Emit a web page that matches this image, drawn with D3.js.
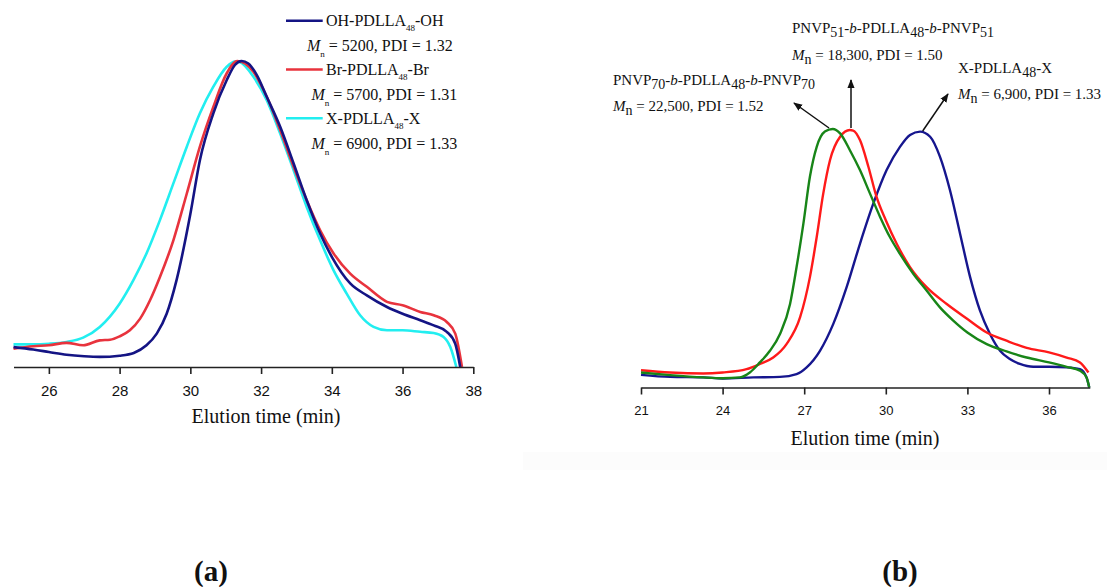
<!DOCTYPE html>
<html>
<head>
<meta charset="UTF-8">
<title>GPC traces</title>
<script src="https://cdn.jsdelivr.net/npm/d3@7"></script>
<style>
  body { margin: 0; background: #fff; }
  svg text { fill: #111; }
</style>
</head>
<body>
<script>
// ---- panel (a) data: elution time (min) vs normalised RI signal ----
var ohTime = [25, 25.56, 26, 26.5, 27, 27.44, 28, 28.4, 28.76, 29.05, 29.33, 29.61, 30, 30.27, 30.65, 31.03, 31.26, 31.45, 31.64, 31.88, 32.16, 32.54, 32.92, 33.29, 33.67, 34, 34.52, 34.99, 35.56, 36, 36.5, 36.88, 37.25, 37.49, 37.63];
var ohSignal = [0.065, 0.057, 0.049, 0.04, 0.035, 0.033, 0.037, 0.046, 0.071, 0.109, 0.174, 0.284, 0.5, 0.676, 0.829, 0.938, 0.987, 1.0, 0.992, 0.954, 0.883, 0.785, 0.665, 0.545, 0.436, 0.36, 0.273, 0.234, 0.196, 0.174, 0.153, 0.136, 0.115, 0.076, 0];

var brTime = [25, 25.56, 26, 26.5, 26.97, 27.44, 27.73, 28, 28.29, 28.58, 28.86, 29.14, 29.52, 29.9, 30.27, 30.65, 31.03, 31.33, 31.78, 32.16, 32.54, 32.92, 33.29, 33.67, 34.05, 34.52, 34.99, 35.56, 36, 36.5, 36.88, 37.25, 37.49, 37.68];
var brSignal = [0.06, 0.068, 0.071, 0.079, 0.071, 0.087, 0.089, 0.1, 0.12, 0.158, 0.218, 0.294, 0.414, 0.567, 0.72, 0.85, 0.96, 1.0, 0.965, 0.883, 0.774, 0.654, 0.545, 0.447, 0.371, 0.305, 0.262, 0.213, 0.202, 0.18, 0.169, 0.147, 0.109, 0];

var xaTime = [25, 25.56, 26, 26.5, 26.97, 27.44, 28, 28.39, 28.76, 29.14, 29.52, 29.9, 30.27, 30.65, 31.03, 31.26, 31.4, 31.78, 32.16, 32.54, 32.92, 33.29, 33.67, 34.05, 34.42, 34.8, 35.18, 35.56, 36, 36.5, 36.88, 37.16, 37.35, 37.52];
var xaSignal = [0.074, 0.074, 0.076, 0.082, 0.096, 0.131, 0.207, 0.284, 0.371, 0.48, 0.6, 0.72, 0.829, 0.916, 0.981, 0.998, 0.996, 0.949, 0.872, 0.763, 0.643, 0.523, 0.414, 0.316, 0.24, 0.169, 0.131, 0.12, 0.12, 0.115, 0.111, 0.098, 0.065, 0];

var aTicks = [26, 28, 30, 32, 34, 36, 38];

// ---- panel (b) data ----
var g70Time = [21, 22.07, 23.29, 24, 24.64, 25, 25.37, 25.74, 26.11, 26.48, 26.72, 26.97, 27.21, 27.46, 27.76, 28.05, 28.32, 28.68, 29.05, 29.42, 29.79, 30.15, 30.52, 31.01, 31.5, 31.99, 32.48, 33, 33.71, 34.44, 35.18, 36, 36.65, 37.14, 37.38, 37.48];
var g70Signal = [0.058, 0.048, 0.039, 0.036, 0.039, 0.058, 0.097, 0.142, 0.207, 0.323, 0.466, 0.634, 0.815, 0.931, 0.99, 1.0, 0.983, 0.918, 0.841, 0.75, 0.66, 0.582, 0.517, 0.44, 0.375, 0.31, 0.259, 0.213, 0.168, 0.14, 0.116, 0.097, 0.08, 0.065, 0.039, 0];

var r51Time = [21, 22.07, 23.29, 24, 24.88, 25.37, 25.86, 26.35, 26.85, 27.21, 27.46, 27.7, 27.95, 28.32, 28.68, 28.8, 29.05, 29.36, 29.66, 30, 30.4, 30.89, 31.5, 32.24, 33, 33.71, 34.44, 35.18, 36, 36.65, 37.14, 37.45];
var r51Signal = [0.067, 0.058, 0.054, 0.058, 0.071, 0.091, 0.116, 0.168, 0.272, 0.427, 0.582, 0.75, 0.88, 0.97, 0.996, 0.994, 0.957, 0.854, 0.737, 0.647, 0.556, 0.466, 0.388, 0.323, 0.265, 0.213, 0.181, 0.153, 0.136, 0.116, 0.097, 0.058];

var bxTime = [21, 22.07, 23.29, 24, 25.13, 26.11, 26.72, 27.09, 27.58, 28.07, 28.56, 29.05, 29.54, 30.03, 30.52, 30.89, 31.26, 31.63, 31.99, 32.36, 32.73, 33.1, 33.46, 33.83, 34.2, 34.56, 34.93, 35.42, 36, 36.65, 37.14, 37.38, 37.48];
var bxSignal = [0.049, 0.041, 0.039, 0.035, 0.039, 0.041, 0.052, 0.078, 0.142, 0.246, 0.388, 0.556, 0.711, 0.841, 0.931, 0.977, 0.99, 0.97, 0.893, 0.763, 0.595, 0.427, 0.298, 0.207, 0.142, 0.11, 0.091, 0.08, 0.08, 0.078, 0.071, 0.039, 0];

var bTicks = [21, 24, 27, 30, 33, 36];

var SERIF = "'Liberation Serif', 'Times New Roman', serif";
var SANS = "'Liberation Sans', Arial, sans-serif";

var svg = d3.select("body").append("svg")
    .attr("width", 1107).attr("height", 587);

svg.append("defs").append("marker")
    .attr("id", "head")
    .attr("viewBox", "0 0 10 10")
    .attr("refX", 9).attr("refY", 5)
    .attr("markerWidth", 9).attr("markerHeight", 9)
    .attr("markerUnits", "userSpaceOnUse")
    .attr("orient", "auto")
  .append("path")
    .attr("d", "M0,1 L10,5 L0,9 Z")
    .attr("fill", "#111");

// faint strip under panel (b), it came from a scanned image
svg.append("rect").attr("x", 523).attr("y", 452).attr("width", 584).attr("height", 18).attr("fill", "#fcfcfc");

// writes a line made of pieces: {t, sub, it}
function rich(g, x, y, parts, size, subSize, subDy) {
    var t = g.append("text").attr("x", x).attr("y", y)
        .style("font-family", SERIF).style("font-size", size + "px");
    parts.forEach(function (p) {
        var s = t.append("tspan").text(p.t);
        if (p.it) s.style("font-style", "italic");
        if (p.sub) {
            s.attr("dy", subDy).style("font-size", subSize + "px");
        }
        if (p.back) s.attr("dy", -subDy);
    });
    return t;
}

// turn pieces so that text after a subscript goes back to baseline
function parts(list) {
    var out = [];
    var down = false;
    list.forEach(function (p) {
        var q = {t: p.t, it: p.it};
        if (p.sub) { q.sub = true; down = true; }
        else if (down) { q.back = true; down = false; }
        out.push(q);
    });
    return out;
}

function drawAxis(xScale, y, ticks, labelSize, title, titleX, titleY) {
    var ax = svg.append("g").attr("transform", "translate(0," + y + ")")
        .call(d3.axisBottom(xScale).tickValues(ticks).tickSize(7).tickSizeOuter(0).tickPadding(11));
    ax.select(".domain").attr("stroke", "#222").attr("stroke-width", 1.6);
    ax.selectAll(".tick line").attr("stroke", "#222").attr("stroke-width", 1.6);
    ax.selectAll(".tick text").style("font-family", SANS).style("font-size", labelSize + "px").attr("fill", "#222");
    svg.append("text").attr("x", titleX).attr("y", titleY)
        .attr("text-anchor", "middle")
        .style("font-family", SERIF).style("font-size", "20px")
        .text(title);
}

// ================= panel (a) =================
var xa = d3.scaleLinear().domain([25, 38]).range([13.5, 473.3]);
var ya = d3.scaleLinear().domain([0, 1]).range([367, 61]);

var lineA = d3.line()
    .x(function (d) { return xa(d[0]); })
    .y(function (d) { return ya(d[1]); })
    .curve(d3.curveMonotoneX);

var seriesA = [
    {time: xaTime, sig: xaSignal, color: "#22eef0"},
    {time: brTime, sig: brSignal, color: "#e8333d"},
    {time: ohTime, sig: ohSignal, color: "#141484"}
];
seriesA.forEach(function (s) {
    svg.append("path")
        .datum(d3.zip(s.time, s.sig))
        .attr("d", lineA)
        .attr("fill", "none")
        .attr("stroke", s.color)
        .attr("stroke-width", 2.6);
});

drawAxis(xa, 367, aTicks, 15, "Elution time (min)", 266, 423);

var legA = [
    {name: "OH", color: "#141484", mn: "5200", pdi: "1.32", mnX: 307},
    {name: "Br", color: "#e8333d", mn: "5700", pdi: "1.31", mnX: 311.5},
    {name: "X", color: "#22eef0", mn: "6900", pdi: "1.33", mnX: 311.5}
];
legA.forEach(function (e, i) {
    var ly = 20.7 + i * 48.8;
    svg.append("line").attr("x1", 286).attr("x2", 322.7).attr("y1", ly).attr("y2", ly)
        .attr("stroke", e.color).attr("stroke-width", 2.6);
    rich(svg, 326, ly + 5.5, parts([
        {t: e.name + "-PDLLA"}, {t: "48", sub: true}, {t: "-" + e.name}
    ]), 16, 9, 5);
    rich(svg, e.mnX, ly + 30.5, parts([
        {t: "M", it: true}, {t: "n", sub: true}, {t: " = " + e.mn + ", PDI = " + e.pdi}
    ]), 16, 9, 6);
});

svg.append("text").attr("x", 211).attr("y", 581)
    .attr("text-anchor", "middle")
    .style("font-family", SERIF).style("font-size", "29px").style("font-weight", "bold")
    .text("(a)");

// ================= panel (b) =================
var xb = d3.scaleLinear().domain([21, 37.5]).range([641, 1089.8]);
var yb = d3.scaleLinear().domain([0, 1]).range([387.5, 129]);

var lineB = d3.line()
    .x(function (d) { return xb(d[0]); })
    .y(function (d) { return yb(d[1]); })
    .curve(d3.curveMonotoneX);

var seriesB = [
    {time: bxTime, sig: bxSignal, color: "#16168e"},
    {time: r51Time, sig: r51Signal, color: "#ff1a1a"},
    {time: g70Time, sig: g70Signal, color: "#188518"}
];
seriesB.forEach(function (s) {
    svg.append("path")
        .datum(d3.zip(s.time, s.sig))
        .attr("d", lineB)
        .attr("fill", "none")
        .attr("stroke", s.color)
        .attr("stroke-width", 2.4);
});

drawAxis(xb, 387.5, bTicks, 13, "Elution time (min)", 865, 445);

// arrows from the peaks to the labels
var arrows = [
    [[829, 128], [794, 103]],
    [[851, 128], [851, 80]],
    [[922.7, 131], [948, 94]]
];
arrows.forEach(function (a) {
    svg.append("line")
        .attr("x1", a[0][0]).attr("y1", a[0][1])
        .attr("x2", a[1][0]).attr("y2", a[1][1])
        .attr("stroke", "#111").attr("stroke-width", 1.5)
        .attr("marker-end", "url(#head)");
});

rich(svg, 792, 33, parts([
    {t: "PNVP"}, {t: "51", sub: true}, {t: "-"}, {t: "b", it: true}, {t: "-PDLLA"}, {t: "48", sub: true},
    {t: "-"}, {t: "b", it: true}, {t: "-PNVP"}, {t: "51", sub: true}
]), 15, 14, 4);
rich(svg, 792, 60, parts([
    {t: "M", it: true}, {t: "n", sub: true}, {t: " = 18,300, PDI = 1.50"}
]), 15, 14, 4);

rich(svg, 613, 85, parts([
    {t: "PNVP"}, {t: "70", sub: true}, {t: "-"}, {t: "b", it: true}, {t: "-PDLLA"}, {t: "48", sub: true},
    {t: "-"}, {t: "b", it: true}, {t: "-PNVP"}, {t: "70", sub: true}
]), 15, 14, 4);
rich(svg, 613, 111, parts([
    {t: "M", it: true}, {t: "n", sub: true}, {t: " = 22,500, PDI = 1.52"}
]), 15, 14, 4);

rich(svg, 958, 73, parts([
    {t: "X-PDLLA"}, {t: "48", sub: true}, {t: "-X"}
]), 15, 14, 4);
rich(svg, 958, 99, parts([
    {t: "M", it: true}, {t: "n", sub: true}, {t: " = 6,900, PDI = 1.33"}
]), 15, 14, 4);

svg.append("text").attr("x", 900).attr("y", 581)
    .attr("text-anchor", "middle")
    .style("font-family", SERIF).style("font-size", "29px").style("font-weight", "bold")
    .text("(b)");
</script>
</body>
</html>
